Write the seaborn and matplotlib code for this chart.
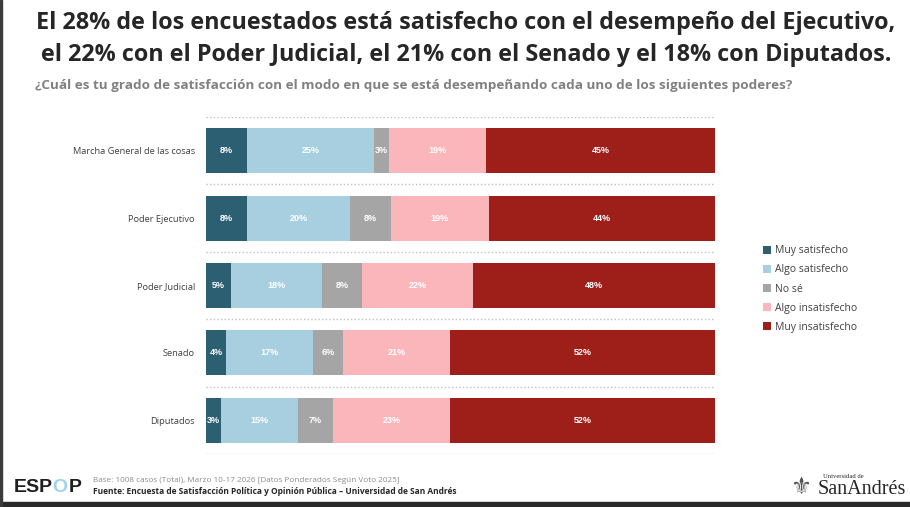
import matplotlib
matplotlib.use("Agg")
import matplotlib.pyplot as plt
from matplotlib.patches import Patch, Rectangle
import numpy as np
import pandas as pd
import seaborn as sns

rows = ["Marcha General de las cosas", "Poder Ejecutivo", "Poder Judicial", "Senado", "Diputados"]
categories = ["Muy satisfecho", "Algo satisfecho", "No sé", "Algo insatisfecho", "Muy insatisfecho"]
muy_satisfecho = [8, 8, 5, 4, 3]
algo_satisfecho = [25, 20, 18, 17, 15]
no_se = [3, 8, 8, 6, 7]
algo_insatisfecho = [19, 19, 22, 21, 23]
muy_insatisfecho = [45, 44, 48, 52, 52]

colors = ["#2c5f72", "#a8cfe0", "#a5a5a5", "#fbb6bb", "#9e1f1a"]

title = ("El 28% de los encuestados está satisfecho con el desempeño del Ejecutivo,\n"
         "el 22% con el Poder Judicial, el 21% con el Senado y el 18% con Diputados.")
subtitle = "¿Cuál es tu grado de satisfacción con el modo en que se está desempeñando cada uno de los siguientes poderes?"
base_note = "Base: 1008 casos (Total), Marzo 10-17 2026 [Datos Ponderados Según Voto 2025]"
source_note = "Fuente: Encuesta de Satisfacción Política y Opinión Pública – Universidad de San Andrés"

sns.set_theme(style="white")
plt.rcParams["font.family"] = ["Open Sans", "DejaVu Sans"]

vals = pd.DataFrame(
    {
        "Muy satisfecho": muy_satisfecho,
        "Algo satisfecho": algo_satisfecho,
        "No sé": no_se,
        "Algo insatisfecho": algo_insatisfecho,
        "Muy insatisfecho": muy_insatisfecho,
    },
    index=rows,
)
# bars fill the whole width, so widths are scaled to the row total
share = vals.div(vals.sum(axis=1), axis=0) * 100
cum = share.cumsum(axis=1)

fig = plt.figure(figsize=(9.1, 5.07), dpi=100)
ax = fig.add_axes([206 / 910, 1 - 454 / 507, 509 / 910, 337 / 507])

# overlapping bars of the running totals give the stacked look
for cat, col in reversed(list(zip(categories, colors))):
    df = pd.DataFrame({"fila": rows, "valor": cum[cat].values})
    sns.barplot(data=df, x="valor", y="fila", color=col, saturation=1,
                width=0.67, ax=ax, linewidth=0)

for i, r in enumerate(rows):
    for cat in categories:
        center = cum.loc[r, cat] - share.loc[r, cat] / 2
        ax.text(center, i, f"{vals.loc[r, cat]}%", ha="center", va="center",
                color="white", fontsize=6.5, fontweight="bold",
                family=["Liberation Sans", "DejaVu Sans"])

for y in np.arange(-0.5, len(rows), 1.0):
    ax.axhline(y, color="#c0c0c0", lw=1, ls=(0, (1, 1.6)), zorder=0)

ax.set_xlim(0, 100)
ax.set_ylim(len(rows) - 0.5, -0.5)
ax.set_xlabel("")
ax.set_ylabel("")
ax.set_xticks([])
ax.tick_params(axis="y", length=0, pad=8, labelsize=6.7, labelcolor="#404040")
sns.despine(ax=ax, left=True, bottom=True)

handles = [Patch(facecolor=c, edgecolor="none") for c in colors]
fig.legend(handles, categories, loc="upper left", bbox_to_anchor=(754 / 910, 1 - 236 / 507),
           frameon=False, fontsize=7.5, handlelength=0.75, handleheight=0.75,
           handletextpad=0.35, labelspacing=0.78, labelcolor="#404040")

fig.text(466 / 910, 1 - 39 / 507, title, ha="center", va="center", fontsize=16.8,
         fontweight="bold", color="#262626", linespacing=1.45)
fig.text(35 / 910, 1 - 85 / 507, subtitle, ha="left", va="center", fontsize=9.7,
         fontweight="bold", color="#808080")

# footer
fig.text(14 / 910, 1 - 488 / 507, "ESP", ha="left", va="center", fontsize=14,
         fontweight="bold", color="#1f1f1f", family=["Liberation Sans", "DejaVu Sans"])
fig.text(52 / 910, 1 - 488 / 507, "O", ha="left", va="center", fontsize=14,
         fontweight="bold", color="#9fd3ea", family=["Liberation Sans", "DejaVu Sans"])
fig.text(69 / 910, 1 - 488 / 507, "P", ha="left", va="center", fontsize=14,
         fontweight="bold", color="#1f1f1f", family=["Liberation Sans", "DejaVu Sans"])
fig.text(93 / 910, 1 - 481 / 507, base_note, ha="left", va="center", fontsize=5.9,
         color="#8c8c8c")
fig.text(93 / 910, 1 - 491 / 507, source_note, ha="left", va="center", fontsize=6.0,
         fontweight="bold", color="#262626")
fig.text(823 / 910, 1 - 477 / 507, "Universidad de", ha="left", va="center", fontsize=4.8,
         color="#262626", family=["Liberation Serif", "DejaVu Serif"])
fig.text(906 / 910, 1 - 490 / 507, "SanAndrés", ha="right", va="center", fontsize=14.5,
         color="#262626", family=["Liberation Serif", "DejaVu Serif"])
fig.text(801 / 910, 1 - 487 / 507, "⚜", ha="center", va="center", fontsize=17,
         color="#555555", family=["DejaVu Sans"])

# screenshot frame
fig.patches.append(Rectangle((0, 0), 1, 5 / 507, transform=fig.transFigure,
                             color="#2a2a2a", zorder=5))
fig.patches.append(Rectangle((0, 0), 2 / 910, 1, transform=fig.transFigure,
                             color="#3a3a3a", zorder=5))

fig.savefig("out.png", dpi=100)
